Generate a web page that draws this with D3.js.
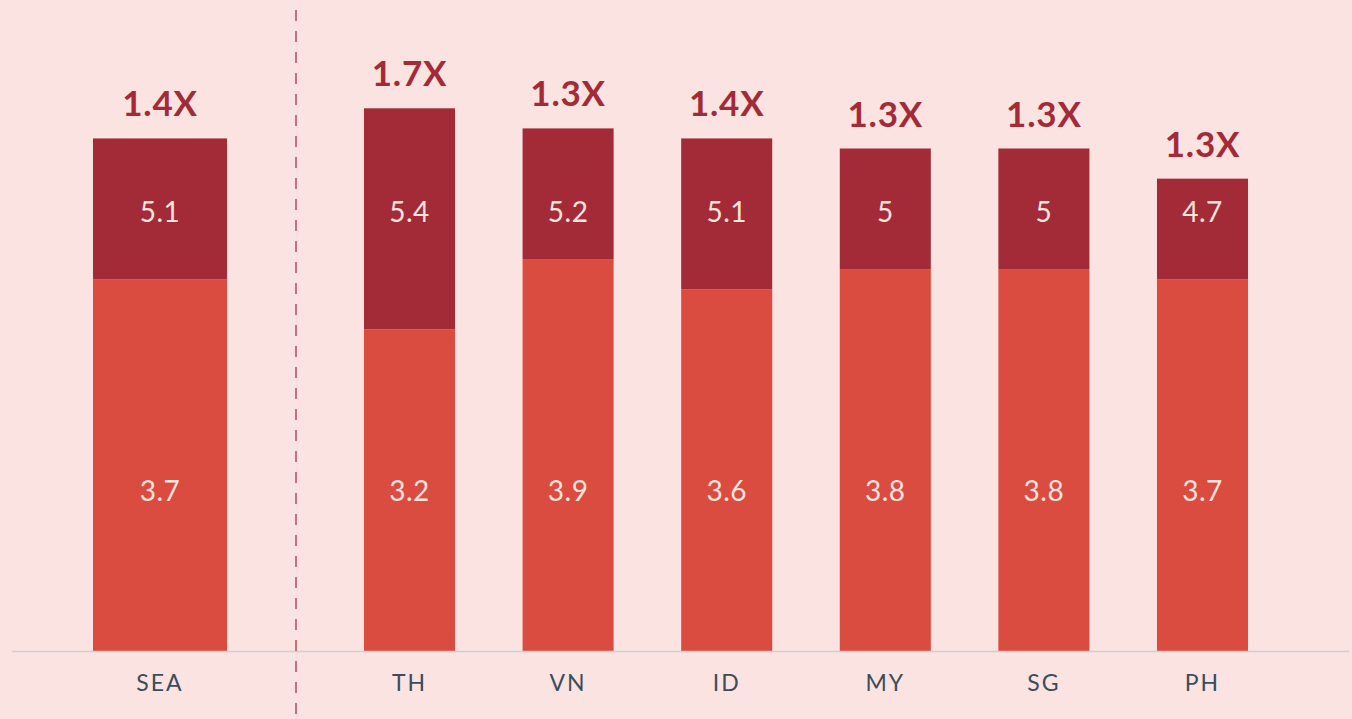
<!DOCTYPE html>
<html><head><meta charset="utf-8">
<script src="https://cdn.jsdelivr.net/npm/d3@7"></script>
<style>
html,body{margin:0;padding:0;background:#fae3e0;}
svg{display:block;}
</style></head>
<body>
<svg id="chart" width="1352" height="719"></svg>
<script>
const regionCats = ["SEA"];
const countryCats = ["TH", "VN", "ID", "MY", "SG", "PH"];
const categories = regionCats.concat(countryCats);
const baseValues = [3.7, 3.2, 3.9, 3.6, 3.8, 3.8, 3.7];
const totalValues = [5.1, 5.4, 5.2, 5.1, 5.0, 5.0, 4.7];
const multipliers = ["1.4X", "1.7X", "1.3X", "1.4X", "1.3X", "1.3X", "1.3X"];

const data = categories.map((c, i) => ({cat: c, base: baseValues[i], total: totalValues[i], mult: multipliers[i]}));

const svg = d3.select("#chart");
const W = 1352, H = 719;
const baseY = 651;
svg.append("rect").attr("width", W).attr("height", H).attr("fill", "#fae3e0");

const y = d3.scaleLinear().domain([0, 6]).range([baseY, baseY - 603]);
const xRegion = d3.scaleBand().domain(regionCats).range([60, 260]).paddingInner(0).paddingOuter(33/134);
const xCountry = d3.scaleBand().domain(countryCats).range([330.2, 1281.8]).paddingInner(0.426).paddingOuter(0.213);
const xPos = c => regionCats.includes(c) ? xRegion(c) : xCountry(c);
const bw = c => regionCats.includes(c) ? xRegion.bandwidth() : xCountry.bandwidth();

const font = "Lato, 'Open Sans', sans-serif";

// bottom segments
svg.selectAll("rect.base").data(data).join("rect")
  .attr("x", d => xPos(d.cat)).attr("width", d => bw(d.cat))
  .attr("y", d => y(d.base)).attr("height", d => y(0) - y(d.base))
  .attr("fill", "#d94c3f");
// top segments
svg.selectAll("rect.top").data(data).join("rect")
  .attr("x", d => xPos(d.cat)).attr("width", d => bw(d.cat))
  .attr("y", d => y(d.total)).attr("height", d => y(d.base) - y(d.total))
  .attr("fill", "#a32b37");

// baseline
svg.append("line").attr("x1", 12).attr("x2", 1349).attr("y1", baseY + 0.5).attr("y2", baseY + 0.5)
  .attr("stroke", "#c9d0d8").attr("stroke-width", 1.3);

// divider
svg.append("line").attr("x1", 296).attr("x2", 296).attr("y1", 10).attr("y2", H)
  .attr("stroke", "#b9485a").attr("stroke-width", 1.5).attr("stroke-dasharray", "11,10");

// value labels
const topLabelY = y(4.38), baseLabelY = y(1.6);
svg.selectAll("text.tv").data(data).join("text")
  .attr("x", d => xPos(d.cat) + bw(d.cat) / 2).attr("y", topLabelY)
  .attr("text-anchor", "middle").attr("dominant-baseline", "central")
  .attr("font-family", font).attr("font-size", 28).attr("letter-spacing", 0.5).attr("fill", "#fbe3df")
  .text(d => String(d.total));
svg.selectAll("text.bv").data(data).join("text")
  .attr("x", d => xPos(d.cat) + bw(d.cat) / 2).attr("y", baseLabelY)
  .attr("text-anchor", "middle").attr("dominant-baseline", "central")
  .attr("font-family", font).attr("font-size", 28).attr("letter-spacing", 0.5).attr("fill", "#fbe3df")
  .text(d => String(d.base));

// multipliers
svg.selectAll("text.mult").data(data).join("text")
  .attr("x", d => xPos(d.cat) + bw(d.cat) / 2).attr("y", d => y(d.total) - 22)
  .attr("text-anchor", "middle")
  .attr("font-family", font).attr("font-weight", 700).attr("font-size", 35).attr("letter-spacing", 0.8).attr("fill", "#a32b37")
  .text(d => d.mult);

// category labels
svg.selectAll("text.cat").data(data).join("text")
  .attr("x", d => xPos(d.cat) + bw(d.cat) / 2).attr("y", 682)
  .attr("text-anchor", "middle").attr("dominant-baseline", "central")
  .attr("font-family", font).attr("font-size", 23).attr("letter-spacing", 2).attr("fill", "#3b4d5a")
  .text(d => d.cat);
</script>
</body></html>
